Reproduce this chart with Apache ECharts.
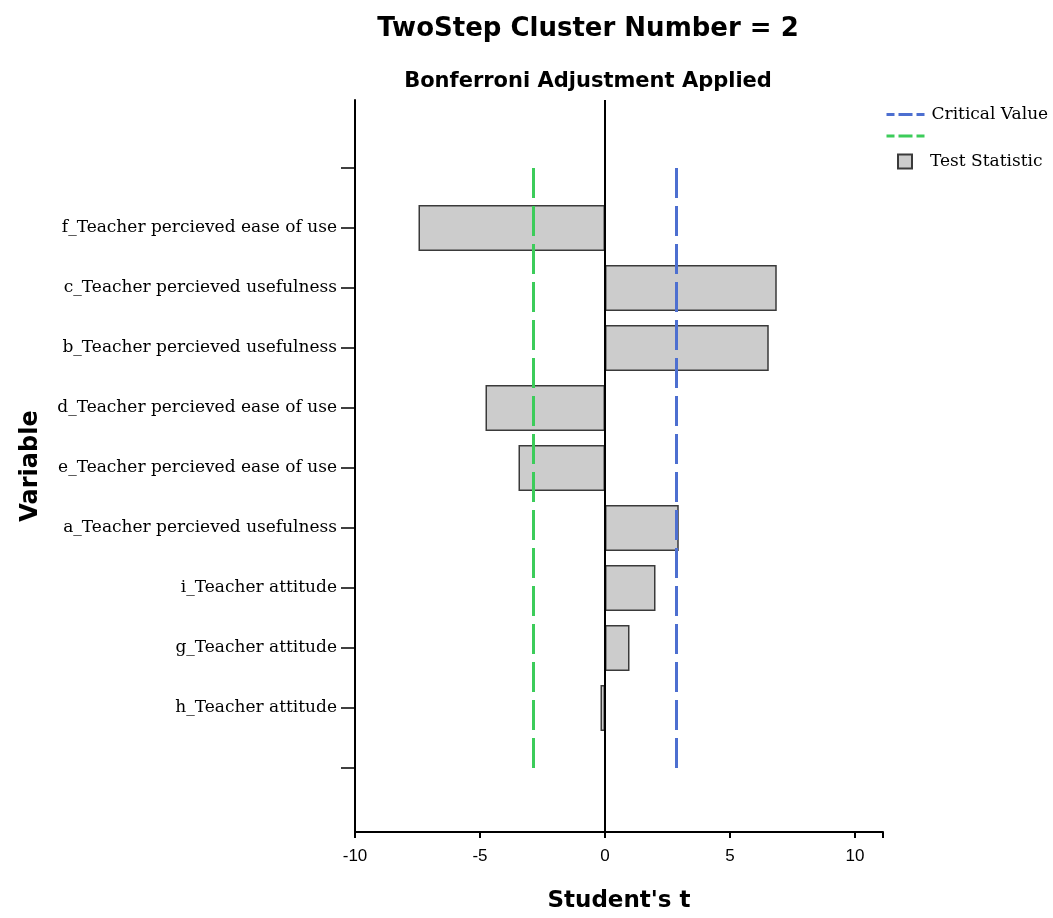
<!DOCTYPE html>
<html>
<head>
<meta charset="utf-8">
<title>TwoStep Cluster Number = 2</title>
<script src="https://cdn.jsdelivr.net/npm/echarts@6/dist/echarts.min.js"></script>
<style>
  html, body { margin: 0; padding: 0; background: #ffffff; }
  #chart { width: 1053px; height: 918px; }
</style>
</head>
<body>
<div id="chart"></div>
<script>
// Variables, top to bottom; the blank slots at each end pad the axis.
const categories = [
  ' ',
  'f_Teacher percieved ease of use',
  'c_Teacher percieved usefulness',
  'b_Teacher percieved usefulness',
  'd_Teacher percieved ease of use',
  'e_Teacher percieved ease of use',
  'a_Teacher percieved usefulness',
  'i_Teacher attitude',
  'g_Teacher attitude',
  'h_Teacher attitude',
  '  '
];

// Student's t test statistic per variable
const testStatistic = [null, -7.46, 6.87, 6.55, -4.78, -3.46, 2.95, 2.02, 0.98, -0.18, null];

// Bonferroni-adjusted critical value (two-sided)
const criticalValue = 2.86;

// x-axis range and tick step
const xMin = -10;
const xMax = 11.12;
const xStep = 5;

// Critical lines run between the two blank category slots
const firstSlot = 0;
const lastSlot = categories.length - 1;

const serifFont = '"DejaVu Serif", "Liberation Serif", serif';
const sansFont = '"Liberation Sans", Arial, sans-serif';
const wideSans = '"DejaVu Sans", Verdana, sans-serif';

const blue = '#4d6fd0';
const green = '#3ccc5a';

const chart = echarts.init(document.getElementById('chart'), null, { renderer: 'canvas' });

// legend entry for a dashed critical line, without a point marker
const dashedEntry = (name, color) => ({
  name,
  itemStyle: { color: 'rgba(0,0,0,0)', borderWidth: 0, opacity: 0 },
  lineStyle: { color, type: [8, 4, 14, 4], width: 3, opacity: 1 }
});

chart.setOption({
  animation: false,
  backgroundColor: '#ffffff',
  title: [
    {
      text: 'TwoStep Cluster Number = 2',
      left: 583,
      top: 11,
      textAlign: 'center',
      textStyle: { fontFamily: wideSans, fontSize: 26, fontWeight: 'bold', color: '#000' }
    },
    {
      text: 'Bonferroni Adjustment Applied',
      left: 583,
      top: 66,
      textAlign: 'center',
      textStyle: { fontFamily: wideSans, fontSize: 21, fontWeight: 'bold', color: '#000' }
    }
  ],
  legend: [
    {
      orient: 'vertical',
      left: 885,
      top: 106,
      padding: 0,
      itemWidth: 40,
      itemHeight: 14,
      itemGap: 6,
      selectedMode: false,
      data: [
        dashedEntry('Critical Value', blue),
        dashedEntry('Lower Critical Value', green)
      ],
      formatter: name => (name === 'Lower Critical Value' ? '' : name),
      textStyle: { fontFamily: serifFont, fontSize: 17, color: '#000' }
    },
    {
      orient: 'vertical',
      left: 897,
      top: 153,
      padding: 0,
      itemWidth: 14,
      itemHeight: 14,
      selectedMode: false,
      data: [
        { name: 'Test Statistic', icon: 'rect' }
      ],
      textStyle: { fontFamily: serifFont, fontSize: 17, color: '#000', padding: [0, 0, 0, 13] }
    }
  ],
  grid: [
    // frame grid: carries the axis lines and axis titles
    { left: 355, right: 170, top: 100, bottom: 83, containLabel: false },
    // category grid: carries the bars and variable labels
    { left: 355, right: 170, top: 138, bottom: 120, containLabel: false }
  ],
  xAxis: [
    {
      gridIndex: 0,
      type: 'value',
      min: xMin,
      max: xMax,
      interval: xStep,
      name: "Student's t",
      nameLocation: 'middle',
      nameGap: 58,
      nameTextStyle: { fontFamily: wideSans, fontSize: 23, fontWeight: 'bold', color: '#000' },
      axisLine: { show: true, onZero: false, lineStyle: { color: '#000', width: 2 } },
      axisTick: { show: true, length: 6, lineStyle: { color: '#000', width: 2 } },
      axisLabel: {
        margin: 16,
        fontFamily: sansFont,
        fontSize: 17,
        color: '#000',
        formatter: v => (v > 10 ? '' : String(v))
      },
      splitLine: { show: false }
    },
    {
      gridIndex: 1,
      type: 'value',
      min: xMin,
      max: xMax,
      interval: xStep,
      show: false,
      splitLine: { show: false }
    }
  ],
  yAxis: [
    {
      gridIndex: 0,
      type: 'value',
      min: 0,
      max: 1,
      name: 'Variable',
      nameLocation: 'middle',
      nameGap: 312,
      nameTextStyle: { fontFamily: wideSans, fontSize: 24, fontWeight: 'bold', color: '#000' },
      axisLine: { show: true, onZero: false, lineStyle: { color: '#000', width: 2 } },
      axisTick: { show: false },
      axisLabel: { show: false },
      splitLine: { show: false }
    },
    {
      gridIndex: 1,
      type: 'category',
      inverse: true,
      data: categories,
      axisLine: { show: false, onZero: false },
      axisTick: { show: true, alignWithLabel: true, interval: 0, length: 14, lineStyle: { color: '#000', width: 1.5 } },
      axisLabel: {
        interval: 0,
        margin: 18,
        fontFamily: serifFont,
        fontSize: 17,
        color: '#000'
      },
      splitLine: { show: false }
    }
  ],
  series: [
    {
      name: 'Test Statistic',
      type: 'bar',
      xAxisIndex: 1,
      yAxisIndex: 1,
      data: testStatistic,
      barWidth: '77%',
      itemStyle: { color: '#cccccc', borderColor: '#3a3a3a', borderWidth: 1.5 },
      z: 2
    },
    {
      name: 'Zero',
      type: 'line',
      xAxisIndex: 0,
      yAxisIndex: 0,
      data: [[0, 0], [0, 1]],
      symbol: 'none',
      lineStyle: { color: '#000', width: 2 },
      silent: true,
      z: 4
    },
    {
      name: 'Critical Value',
      type: 'line',
      xAxisIndex: 1,
      yAxisIndex: 1,
      data: [[criticalValue, firstSlot], [criticalValue, lastSlot]],
      symbol: 'none',
      color: blue,
      lineStyle: { color: blue, width: 3, type: [30, 8] },
      silent: true,
      z: 5
    },
    {
      name: 'Lower Critical Value',
      type: 'line',
      xAxisIndex: 1,
      yAxisIndex: 1,
      data: [[-criticalValue, firstSlot], [-criticalValue, lastSlot]],
      symbol: 'none',
      color: green,
      lineStyle: { color: green, width: 3, type: [30, 8] },
      silent: true,
      z: 5
    }
  ]
});
</script>
</body>
</html>
